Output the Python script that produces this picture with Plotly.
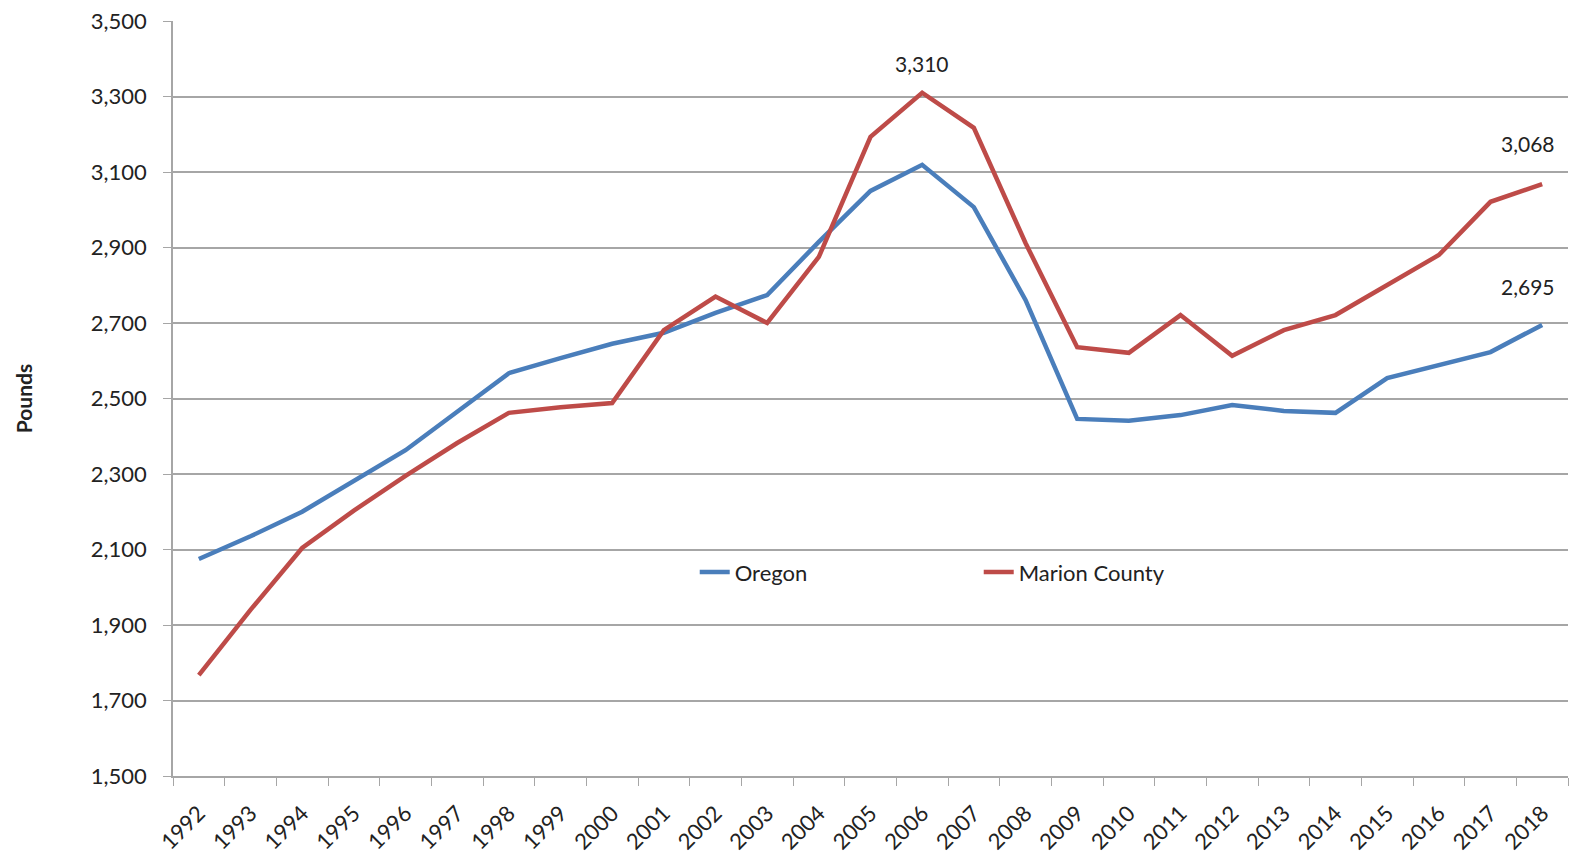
import plotly.graph_objects as go

years = [str(y) for y in range(1992, 2019)]
oregon = [2075, 2135, 2200, 2280, 2363, 2465, 2567, 2607, 2645, 2674, 2727, 2774, 2915,
          3050, 3119, 3007, 2761, 2446, 2441, 2456, 2483, 2467, 2462, 2554, 2589, 2623, 2695]
marion = [1767, 1940, 2104, 2203, 2295, 2382, 2462, 2477, 2488, 2681, 2770, 2700, 2875,
          3193, 3310, 3217, 2912, 2636, 2621, 2721, 2613, 2681, 2721, 2801, 2880, 3021, 3068]
labels = [("2006", 3310, "3,310", 29, 0), ("2018", 3068, "3,068", 41, -14),
          ("2018", 2695, "2,695", 38, -14)]

font_family = "Lato, 'Open Sans', sans-serif"
blue = "#4A7EBB"
red = "#BE4B48"
grid = "#A6A6A6"

fig = go.Figure()
fig.add_trace(go.Scatter(x=years, y=oregon, mode="lines", name="Oregon",
                         line=dict(color=blue, width=4.5)))
fig.add_trace(go.Scatter(x=years, y=marion, mode="lines", name="Marion County",
                         line=dict(color=red, width=4.5)))

for yr, val, txt, ys, xs in labels:
    fig.add_annotation(x=years.index(yr), y=val, xref="x", yref="y", text=txt,
                       showarrow=False, yshift=ys, xshift=xs,
                       font=dict(size=21, color="#222"))

fig.update_layout(
    width=1574, height=854,
    margin=dict(l=173, r=6, t=21, b=78),
    paper_bgcolor="white", plot_bgcolor="white",
    font=dict(family=font_family, color="#222", size=21),
    showlegend=True,
    legend=dict(orientation="h", x=0.374, y=0.27, xanchor="left", yanchor="middle",
                entrywidth=239, entrywidthmode="pixels",
                font=dict(size=22, color="#222"), bgcolor="rgba(0,0,0,0)"),
    xaxis=dict(type="category", range=[-0.5, 26.5], showgrid=False, automargin=False,
               showline=True, linecolor=grid, linewidth=1.5,
               ticks="outside", tickson="boundaries", ticklen=8, tickcolor=grid,
               tickangle=-45, ticklabelstandoff=14,
               tickfont=dict(size=22, color="#222")),
    yaxis=dict(range=[1500, 3500], tickvals=list(range(1500, 3501, 200)),
               tickformat=",d", showgrid=True, gridcolor=grid, gridwidth=1.5,
               showline=True, linecolor=grid, linewidth=1.5, automargin=False,
               ticks="outside", ticklen=8, tickcolor=grid, ticklabelstandoff=12,
               tickfont=dict(size=22, color="#222"), zeroline=False,
               title=dict(text="<b>Pounds</b>", font=dict(size=21, color="#222"), standoff=52)),
)

fig.write_html("out.html", config={"displayModeBar": False},
               post_script="document.body.style.margin='0';")
